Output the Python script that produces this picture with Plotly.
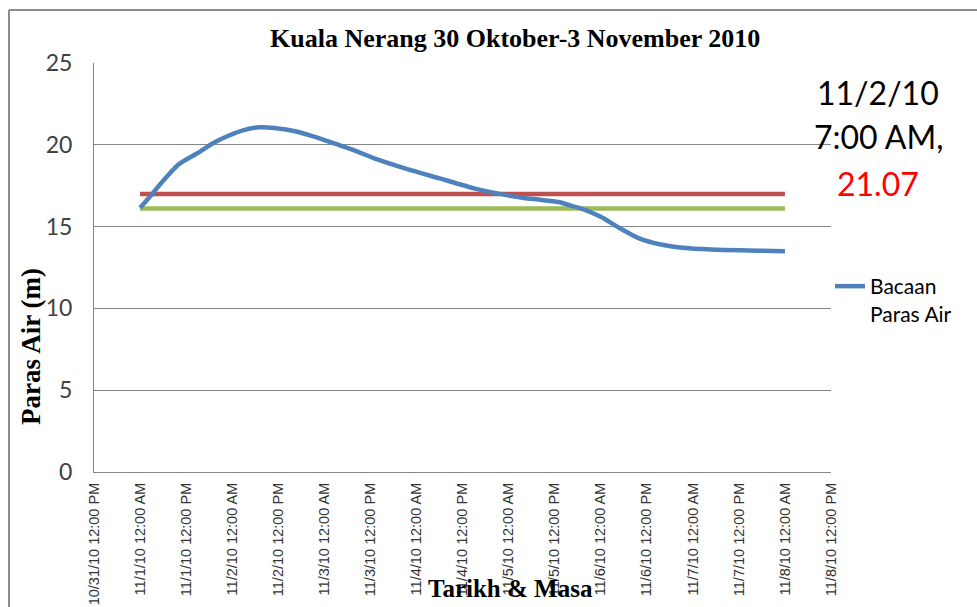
import plotly.graph_objects as go

# ---- data ----
times = [
    "2010-11-01 00:00", "2010-11-01 03:00", "2010-11-01 06:00", "2010-11-01 10:00",
    "2010-11-01 15:00", "2010-11-01 19:00", "2010-11-01 23:00", "2010-11-02 03:00",
    "2010-11-02 07:00", "2010-11-02 11:00", "2010-11-02 17:00", "2010-11-02 22:00",
    "2010-11-03 03:00", "2010-11-03 08:00", "2010-11-03 13:00", "2010-11-03 21:00",
    "2010-11-04 06:00", "2010-11-04 15:00", "2010-11-04 21:00", "2010-11-05 04:00",
    "2010-11-05 08:00", "2010-11-05 13:00", "2010-11-05 16:00", "2010-11-05 19:00",
    "2010-11-06 00:00", "2010-11-06 05:00", "2010-11-06 10:00", "2010-11-06 15:00",
    "2010-11-06 23:00", "2010-11-07 08:00", "2010-11-07 17:00", "2010-11-08 00:00",
]
water_level = [
    16.15, 16.95, 17.8, 18.8,
    19.5, 20.1, 20.55, 20.9,
    21.07, 21.03, 20.8, 20.45,
    20.05, 19.65, 19.17, 18.56,
    17.95, 17.34, 17.03, 16.75,
    16.65, 16.5, 16.3, 16.1,
    15.6, 14.9, 14.28, 13.94,
    13.67, 13.57, 13.53, 13.5,
]
red_level = 17.0
green_level = 16.1

tick_vals = [
    "2010-10-31 12:00", "2010-11-01 00:00", "2010-11-01 12:00", "2010-11-02 00:00",
    "2010-11-02 12:00", "2010-11-03 00:00", "2010-11-03 12:00", "2010-11-04 00:00",
    "2010-11-04 12:00", "2010-11-05 00:00", "2010-11-05 12:00", "2010-11-06 00:00",
    "2010-11-06 12:00", "2010-11-07 00:00", "2010-11-07 12:00", "2010-11-08 00:00",
    "2010-11-08 12:00",
]
tick_text = [
    "10/31/10 12:00 PM", "11/1/10 12:00 AM", "11/1/10 12:00 PM", "11/2/10 12:00 AM",
    "11/2/10 12:00 PM", "11/3/10 12:00 AM", "11/3/10 12:00 PM", "11/4/10 12:00 AM",
    "11/4/10 12:00 PM", "11/5/10 12:00 AM", "11/5/10 12:00 PM", "11/6/10 12:00 AM",
    "11/6/10 12:00 PM", "11/7/10 12:00 AM", "11/7/10 12:00 PM", "11/8/10 12:00 AM",
    "11/8/10 12:00 PM",
]

title_text = "Kuala Nerang 30 Oktober-3 November 2010"
y_title = "Paras Air (m)"
x_title = "Tarikh & Masa"
peak_lines = ["11/2/10", "7:00 AM,", "21.07"]

# ---- figure ----
fig = go.Figure()
fig.add_trace(go.Scatter(
    x=[times[0], times[-1]], y=[red_level, red_level], mode="lines",
    line=dict(color="#C0504D", width=4.5), showlegend=False, hoverinfo="skip"))
fig.add_trace(go.Scatter(
    x=[times[0], times[-1]], y=[green_level, green_level], mode="lines",
    line=dict(color="#9BBB59", width=4.5), showlegend=False, hoverinfo="skip"))
fig.add_trace(go.Scatter(
    x=times, y=water_level, mode="lines", name="Bacaan<br>Paras Air",
    line=dict(color="#4F81BD", width=4.5, shape="spline", smoothing=0.6)))

L, R, T, B = 94, 146, 63, 135
W, H = 977, 607
pw, ph = W - L - R, H - T - B

def px(x):
    return (x - L) / pw

def py(y):
    return (H - B - y) / ph

serif = "Liberation Serif, Times New Roman, serif"
sans = "Lato, Open Sans, sans-serif"

annotations = [
    dict(text="<b>%s</b>" % title_text, x=px(515), y=py(39), xref="paper", yref="paper",
         showarrow=False, xanchor="center", yanchor="middle",
         font=dict(family=serif, size=26, color="#000")),
    dict(text="<b>%s</b>" % y_title, x=px(31), y=py(347), xref="paper", yref="paper",
         showarrow=False, textangle=-90, xanchor="center", yanchor="middle",
         font=dict(family=serif, size=27, color="#000")),
    dict(text="<b>%s</b>" % x_title, x=px(510), y=py(588), xref="paper", yref="paper",
         showarrow=False, xanchor="center", yanchor="middle",
         font=dict(family=serif, size=25, color="#000")),
]
for txt, yy, col in zip(peak_lines, [92, 137, 183], ["#000", "#000", "#FF0000"]):
    annotations.append(dict(text=txt, x=px(878), y=py(yy), xref="paper", yref="paper",
                            showarrow=False, xanchor="center", yanchor="middle",
                            font=dict(family=sans, size=32, color=col)))

border = "#8C8C8C"
shapes = [
    dict(type="line", xref="paper", yref="paper", x0=px(9), x1=px(9), y0=py(660), y1=py(10),
         line=dict(color=border, width=2)),
    dict(type="line", xref="paper", yref="paper", x0=px(9), x1=px(1000), y0=py(10), y1=py(10),
         line=dict(color=border, width=2)),
]

fig.update_layout(
    width=W, height=H, autosize=False,
    margin=dict(l=L, r=R, t=T, b=B, autoexpand=False),
    paper_bgcolor="white", plot_bgcolor="white",
    annotations=annotations, shapes=shapes,
    legend=dict(x=px(830), y=py(266), xanchor="left", yanchor="top", valign="top",
                font=dict(family=sans, size=21, color="#000"),
                bgcolor="rgba(0,0,0,0)", itemwidth=30),
    xaxis=dict(type="date", range=[tick_vals[0], tick_vals[-1]],
               tickmode="array", tickvals=tick_vals, ticktext=tick_text,
               tickangle=-90, tickfont=dict(family="Liberation Sans, Arial", size=14.5, color="#333"),
               showgrid=False, showline=True, linecolor="#868686", linewidth=1,
               zeroline=False, ticks="", automargin=False, ticklabelstandoff=4),
    yaxis=dict(range=[0, 25], dtick=5, tick0=0, showgrid=True, gridcolor="#868686",
               gridwidth=1, showline=True, linecolor="#868686", linewidth=1,
               zeroline=False, ticks="", automargin=False,
               tickfont=dict(family=sans, size=23, color="#404040"),
               ticklabelstandoff=16),
)

fig.write_html("out.html", config={"displayModeBar": False},
               post_script="document.body.style.margin='0';document.body.style.padding='0';")
